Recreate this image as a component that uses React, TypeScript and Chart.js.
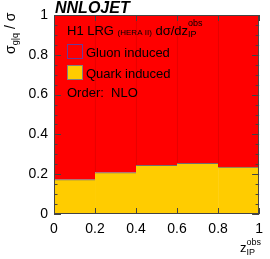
import React, { useEffect, useRef } from "react";
import { Chart, registerables } from "chart.js";

Chart.register(...registerables);

// Bin centres of z_IP^obs (bins of width 0.2 from 0 to 1)
const binCenters = [0.1, 0.3, 0.5, 0.7, 0.9];
// Fractions of the cross section
const quarkFraction = [0.173, 0.208, 0.245, 0.254, 0.236];
const gluonFraction = [0.827, 0.792, 0.755, 0.746, 0.764];
const tickValues = [0, 0.2, 0.4, 0.6, 0.8, 1];
const tickLabels = ["0", "0.2", "0.4", "0.6", "0.8", "1"];

const FONT = "'Liberation Sans', Arial, sans-serif";

type Seg = { t: string; size: number; dy?: number; style?: string; back?: boolean };

function drawSegs(ctx: CanvasRenderingContext2D, x: number, y: number, segs: Seg[]) {
  let cx = x;
  let lastStart = x;
  for (const s of segs) {
    ctx.font = `${s.style || ""} ${s.size}px ${FONT}`;
    const start = s.back ? lastStart : cx;
    ctx.fillText(s.t, start, y + (s.dy || 0));
    const w = ctx.measureText(s.t).width;
    if (s.back) {
      cx = Math.max(cx, start + w);
    } else {
      lastStart = start;
      cx = start + w;
    }
  }
}

const decorPlugin = {
  id: "decor",
  afterDatasetsDraw(chart: any) {
    const ctx: CanvasRenderingContext2D = chart.ctx;
    const { left, right, top, bottom } = chart.chartArea;
    const xs = chart.scales.x;
    const ys = chart.scales.y;
    ctx.save();
    // frame
    ctx.strokeStyle = "#444";
    ctx.lineWidth = 1;
    ctx.strokeRect(Math.round(left) + 0.5, Math.round(top) + 0.5, Math.round(right - left) - 1, Math.round(bottom - top) - 1);
    // y ticks (inward, both sides)
    ctx.beginPath();
    for (let i = 0; i <= 20; i++) {
      const v = i * 0.05;
      const py = Math.round(ys.getPixelForValue(v)) + 0.5;
      const len = i % 4 === 0 ? 7 : 3.5;
      ctx.moveTo(left, py);
      ctx.lineTo(left + len, py);
      ctx.moveTo(right, py);
      ctx.lineTo(right - len, py);
    }
    for (const v of tickValues) {
      const px = Math.round(xs.getPixelForValue(v)) + 0.5;
      ctx.moveTo(px, bottom);
      ctx.lineTo(px, bottom - 6);
      ctx.moveTo(px, top);
      ctx.lineTo(px, top + 6);
    }
    ctx.stroke();

    // legend / annotation text
    ctx.fillStyle = "#000";
    ctx.textBaseline = "alphabetic";
    ctx.textAlign = "left";
    drawSegs(ctx, 67, 35, [
      { t: "H1 LRG ", size: 13 },
      { t: "(HERA II)", size: 8 },
      { t: " d\u03c3/dz", size: 13 },
      { t: "obs", size: 9, dy: -9 },
      { t: "IP", size: 9, dy: 2, back: true },
    ]);
    // legend boxes
    ctx.fillStyle = "#ff0000";
    ctx.fillRect(68, 45, 14, 13);
    ctx.strokeStyle = "#6a3a9a";
    ctx.strokeRect(67.5, 44.5, 15, 14);
    ctx.fillStyle = "#ffcc00";
    ctx.fillRect(68, 66, 14, 13);
    ctx.strokeStyle = "#808080";
    ctx.strokeRect(67.5, 65.5, 15, 14);
    ctx.fillStyle = "#000";
    ctx.font = `13px ${FONT}`;
    ctx.fillText("Gluon induced", 86, 57);
    ctx.fillText("Quark induced", 86, 78);
    ctx.fillText("Order:  NLO", 67, 97);

    // NNLOJET label
    ctx.font = `italic bold 16px ${FONT}`;
    ctx.fillText("NNLOJET", 55, 13);

    // x title
    ctx.fillStyle = "#000";
    drawSegs(ctx, 240, 252, [
      { t: "z", size: 13 },
      { t: "obs", size: 9, dy: -7 },
      { t: "IP", size: 9, dy: 3, back: true },
    ]);

    // y title (rotated)
    ctx.save();
    ctx.translate(15, 54);
    ctx.rotate(-Math.PI / 2);
    drawSegs(ctx, 0, 0, [
      { t: "\u03c3", size: 14 },
      { t: "g|q", size: 9, dy: 3 },
      { t: " / \u03c3", size: 14 },
    ]);
    ctx.restore();
    ctx.restore();
  },
};

export default function App() {
  const ref = useRef<HTMLCanvasElement | null>(null);
  useEffect(() => {
    if (!ref.current) return;
    const chart = new Chart(ref.current, {
      type: "bar",
      data: {
        datasets: [
          {
            label: "Quark induced",
            data: binCenters.map((x, i) => ({ x, y: quarkFraction[i] })),
            backgroundColor: "#ffcc00",
            borderColor: "#707070",
            borderWidth: { top: 1, left: 0, right: 0, bottom: 0 },
            borderSkipped: false,
            barPercentage: 1,
            categoryPercentage: 1,
          },
          {
            label: "Gluon induced",
            data: binCenters.map((x, i) => ({ x, y: gluonFraction[i] })),
            backgroundColor: "#ff0000",
            borderColor: "#e00000",
            borderWidth: { top: 0, left: 1, right: 0, bottom: 0 },
            borderSkipped: false,
            barPercentage: 1,
            categoryPercentage: 1,
          },
        ],
      } as any,
      options: {
        responsive: false,
        maintainAspectRatio: false,
        animation: false,
        layout: { padding: { left: 0, right: 8, top: 15, bottom: 0 } },
        plugins: {
          legend: { display: false },
          tooltip: { enabled: false },
        },
        scales: {
          x: {
            type: "linear",
            min: 0,
            max: 1,
            stacked: true,
            offset: false,
            grid: { display: false, drawTicks: false },
            border: { display: false },
            afterFit: (s: any) => {
              s.height = 45;
            },
            afterBuildTicks: (s: any) => {
              s.ticks = tickValues.map((v) => ({ value: v }));
            },
            ticks: {
              padding: 7,
              color: "#000",
              font: { family: FONT, size: 14 },
              maxRotation: 0,
              callback: (v: any) => tickLabels[tickValues.findIndex((t) => Math.abs(t - v) < 1e-6)] ?? "",
            },
          },
          y: {
            type: "linear",
            min: 0,
            max: 1,
            stacked: true,
            grid: { display: false, drawTicks: false },
            border: { display: false },
            afterFit: (s: any) => {
              s.width = 54;
            },
            afterBuildTicks: (s: any) => {
              s.ticks = tickValues.map((v) => ({ value: v }));
            },
            ticks: {
              padding: 6,
              color: "#000",
              font: { family: FONT, size: 14 },
              callback: (v: any) => tickLabels[tickValues.findIndex((t) => Math.abs(t - v) < 1e-6)] ?? "",
            },
          },
        },
      } as any,
      plugins: [decorPlugin],
    });
    return () => chart.destroy();
  }, []);
  return (
    <div style={{ position: "fixed", left: 0, top: 0, width: 270, height: 259, background: "#fff" }}>
      <canvas ref={ref} width={270} height={259} style={{ width: 270, height: 259 }} />
    </div>
  );
}
